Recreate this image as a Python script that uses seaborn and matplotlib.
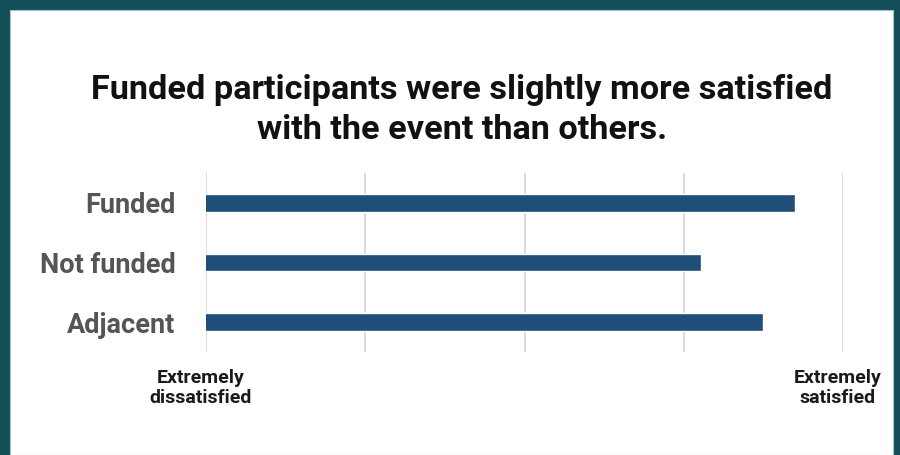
import matplotlib
matplotlib.use("Agg")
import matplotlib.pyplot as plt
from matplotlib.patches import Rectangle
from matplotlib.transforms import ScaledTranslation
import seaborn as sns
import pandas as pd

# Mean satisfaction on a 1 (extremely dissatisfied) to 5 (extremely satisfied) scale
groups = ["Funded", "Not funded", "Adjacent"]
satisfaction = [4.70, 4.11, 4.50]
scale_ticks = [1, 2, 3, 4, 5]
end_labels = {1: "Extremely\ndissatisfied", 5: "Extremely\nsatisfied"}

title = "Funded participants were slightly more satisfied\nwith the event than others."

sns.set_theme(style="white")
plt.rcParams["font.family"] = ["Roboto", "DejaVu Sans"]

frame = "#15505A"
bar_color = "#1F4E79"

fig = plt.figure(figsize=(9, 4.55), dpi=100)
fig.patch.set_facecolor(frame)
# white panel inside the teal frame (frame on left, top and right)
panel = Rectangle((10 / 900, 0), 883 / 900, 445 / 455,
                  transform=fig.transFigure, facecolor="white",
                  edgecolor="#9FC3C9", linewidth=0.8, zorder=-10)
fig.add_artist(panel)

ax = fig.add_axes([206 / 900, 1 - 352 / 455, (843 - 206) / 900, (352 - 173) / 455])
ax.set_facecolor("none")
ax.set_zorder(1)

df = pd.DataFrame({"group": groups, "score": satisfaction})
sns.barplot(data=df, x="score", y="group", orient="h", width=0.3,
            color=bar_color, saturation=1, ax=ax, zorder=3)

ax.set_xlim(scale_ticks[0], scale_ticks[-1])
ax.set_ylim(2.5, -0.5)
ax.set_xticks(scale_ticks)
ax.set_xticklabels([end_labels.get(t, "") for t in scale_ticks])
for x in scale_ticks:
    ax.axvline(x, color="#DADADA", linewidth=1.4, zorder=1)

ax.set_xlabel("")
ax.set_ylabel("")
for s in ax.spines.values():
    s.set_visible(False)
ax.tick_params(axis="both", length=0)
ax.tick_params(axis="y", pad=22, labelsize=19.5, labelcolor="#555555")
ax.tick_params(axis="x", pad=12, labelsize=14, labelcolor="#1a1a1a")
for lbl in ax.get_yticklabels():
    lbl.set_fontweight("bold")
shift = ScaledTranslation(-5 / 100, 0, fig.dpi_scale_trans)
for lbl in ax.get_xticklabels():
    lbl.set_fontweight("bold")
    lbl.set_linespacing(1.2)
    lbl.set_transform(lbl.get_transform() + shift)

fig.text(462 / 900, 1 - 110 / 455, title, ha="center", va="center",
         fontsize=24.7, fontweight="bold", color="#111111", linespacing=1.32)

fig.savefig("out.png", dpi=100, facecolor=fig.get_facecolor())
